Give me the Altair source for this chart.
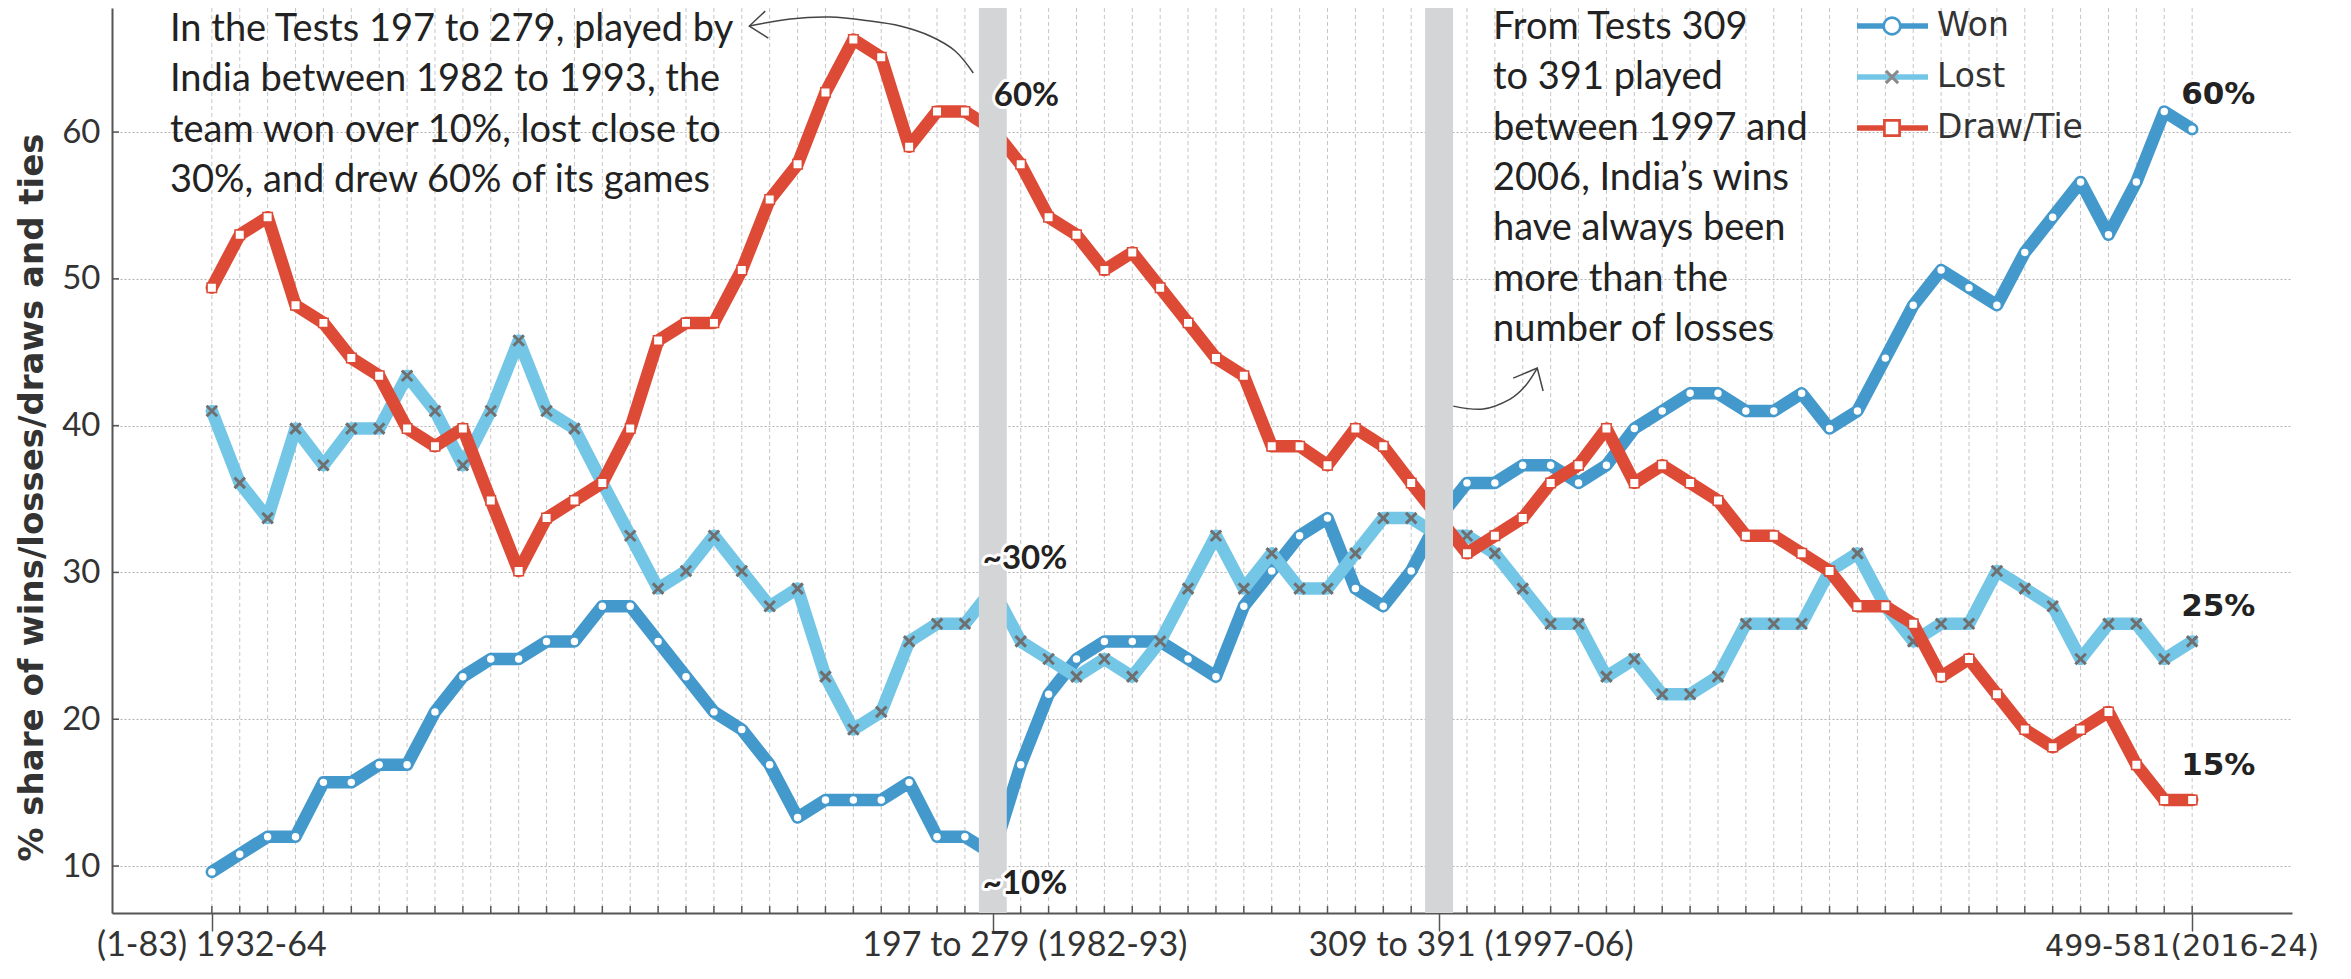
import altair as alt
import pandas as pd

# ---------------- data ----------------
idx = list(range(72))  # rolling 83-Test windows, in order

won = [9.6, 10.8, 12.0, 12.0, 15.7, 15.7, 16.9, 16.9, 20.5, 22.9,
       24.1, 24.1, 25.3, 25.3, 27.7, 27.7, 25.3, 22.9, 20.5, 19.3,
       16.9, 13.3, 14.5, 14.5, 14.5, 15.7, 12.0, 12.0, 10.8, 16.9,
       21.7, 24.1, 25.3, 25.3, 25.3, 24.1, 22.9, 27.7, 30.1, 32.5,
       33.7, 28.9, 27.7, 30.1, 33.7, 36.1, 36.1, 37.3, 37.3, 36.1,
       37.3, 39.8, 41.0, 42.2, 42.2, 41.0, 41.0, 42.2, 39.8, 41.0,
       44.6, 48.2, 50.6, 49.4, 48.2, 51.8, 54.2, 56.6, 53.0, 56.6,
       61.4, 60.2]

lost = [41.0, 36.1, 33.7, 39.8, 37.3, 39.8, 39.8, 43.4, 41.0, 37.3,
        41.0, 45.8, 41.0, 39.8, 36.1, 32.5, 28.9, 30.1, 32.5, 30.1,
        27.7, 28.9, 22.9, 19.3, 20.5, 25.3, 26.5, 26.5, 28.9, 25.3,
        24.1, 22.9, 24.1, 22.9, 25.3, 28.9, 32.5, 28.9, 31.3, 28.9,
        28.9, 31.3, 33.7, 33.7, 32.5, 32.5, 31.3, 28.9, 26.5, 26.5,
        22.9, 24.1, 21.7, 21.7, 22.9, 26.5, 26.5, 26.5, 30.1, 31.3,
        27.7, 25.3, 26.5, 26.5, 30.1, 28.9, 27.7, 24.1, 26.5, 26.5,
        24.1, 25.3]

draw = [49.4, 53.0, 54.2, 48.2, 47.0, 44.6, 43.4, 39.8, 38.6, 39.8,
        34.9, 30.1, 33.7, 34.9, 36.1, 39.8, 45.8, 47.0, 47.0, 50.6,
        55.4, 57.8, 62.7, 66.3, 65.1, 59.0, 61.4, 61.4, 60.2, 57.8,
        54.2, 53.0, 50.6, 51.8, 49.4, 47.0, 44.6, 43.4, 38.6, 38.6,
        37.3, 39.8, 38.6, 36.1, 33.7, 31.3, 32.5, 33.7, 36.1, 37.3,
        39.8, 36.1, 37.3, 36.1, 34.9, 32.5, 32.5, 31.3, 30.1, 27.7,
        27.7, 26.5, 22.9, 24.1, 21.7, 19.3, 18.1, 19.3, 20.5, 16.9,
        14.5, 14.5]

series_names = ["Won", "Lost", "Draw/Tie"]
y_ticks = [10, 20, 30, 40, 50, 60]
x_tick_idx = [0, 28, 44, 71]
x_tick_labels = ["(1-83) 1932-64", "197 to 279 (1982-93)",
                 "309 to 391 (1997-06)", "499-581(2016-24)"]
band_lo = [27.5, 43.5]
band_hi = [28.5, 44.5]
end_labels = ["60%", "25%", "15%"]

note1 = ["In the Tests 197 to 279, played by",
         "India between 1982 to 1993, the",
         "team won over 10%, lost close to",
         "30%, and drew 60% of its games"]
note2 = ["From Tests 309", "to 391 played", "between 1997 and",
         "2006, India\u2019s wins", "have always been",
         "more than the", "number of losses"]

# annotation arrows (in data units: window index, percent)
arrow1_x = [19.27, 20.74, 22.17, 23.6, 24.68, 25.75, 26.65, 27.3]
arrow1_y = [67.22, 67.70, 67.83, 67.56, 67.22, 66.54, 65.52, 64.02]
head1_x = [19.84, 19.27, 19.95]
head1_y = [68.24, 67.22, 66.40]
arrow2_x = [44.51, 45.58, 46.55, 47.09, 47.52]
arrow2_y = [41.33, 41.13, 41.81, 42.70, 43.92]
head2_x = [46.66, 47.52, 47.73]
head2_y = [43.24, 43.92, 42.36]

# ---------------- styling ----------------
W, H = 2180, 905
BLUE = "#4499cc"
LIGHT = "#74c6e7"
RED = "#dd4a36"
XGRAY = "#6f6f6f"
BAND = "#d4d5d7"
INK = "#222222"
AX = "#555555"
SANS = "Lato"
DJ = "DejaVu Sans"

xs = alt.Scale(domain=[-3.58, 74.58], nice=False, zero=False)
ys = alt.Scale(domain=[6.8, 68.45], nice=False, zero=False)

X_AXIS = alt.Axis(values=x_tick_idx, labels=False, grid=False, ticks=True,
                  tickSize=18, tickWidth=1.5, tickColor=AX,
                  domainColor=AX, domainWidth=2, title=None)
Y_AXIS = alt.Axis(values=y_ticks, grid=True, gridDash=[2, 2], gridColor="#b3b3b3",
                  gridWidth=1, ticks=False, labelFont=SANS, labelFontSize=33,
                  labelColor="#333333", labelPadding=12, domainColor=AX, domainWidth=2,
                  title="% share of wins/losses/draws and ties", titleFont=DJ,
                  titleFontSize=34, titleFontWeight="bold", titleColor="#333333",
                  titleX=-80, titleY=489, titleAngle=270, titleAlign="center",
                  titleBaseline="middle")


def xq(f):
    return alt.X(f"{f}:Q", scale=xs, axis=X_AXIS)


def yq(f):
    return alt.Y(f"{f}:Q", scale=ys, axis=Y_AXIS)


df = pd.DataFrame({"idx": idx, "won": won, "lost": lost, "draw": draw})
base = alt.Chart(df)

layers = []

# vertical dashed grid at every window
layers.append(base.mark_rule(strokeDash=[4, 3], color="#c6c6c6", strokeWidth=1)
              .encode(x=xq("idx")))
# inward minor ticks on x axis
layers.append(base.mark_rule(color=AX, strokeWidth=1.5)
              .encode(x=xq("idx"), y=alt.value(H - 7), y2=alt.value(H)))
# inward ticks on y axis
layers.append(alt.Chart(pd.DataFrame({"v": y_ticks})).mark_rule(color=AX, strokeWidth=1.5)
              .encode(y=yq("v"), x=alt.value(0), x2=alt.value(7)))

# series: line then markers, in drawing order Won, Lost, Draw/Tie
line_kw = dict(strokeWidth=12.5, strokeJoin="round", strokeCap="round")
layers.append(base.mark_line(color=BLUE, **line_kw).encode(x=xq("idx"), y=yq("won")))
layers.append(base.mark_point(shape="circle", filled=True, fill="white", stroke=BLUE,
                              strokeWidth=1.5, size=80, opacity=1)
              .encode(x=xq("idx"), y=yq("won")))
layers.append(base.mark_line(color=LIGHT, **line_kw).encode(x=xq("idx"), y=yq("lost")))
layers.append(base.mark_point(shape="M-1,-1L1,1M-1,1L1,-1", filled=False, stroke=XGRAY,
                              strokeWidth=3, size=110, opacity=1)
              .encode(x=xq("idx"), y=yq("lost")))
layers.append(base.mark_line(color=RED, **line_kw).encode(x=xq("idx"), y=yq("draw")))
layers.append(base.mark_point(shape="square", filled=True, fill="white", stroke=RED,
                              strokeWidth=1.5, size=90, opacity=1)
              .encode(x=xq("idx"), y=yq("draw")))

# grey highlight bands (drawn over the lines)
layers.append(alt.Chart(pd.DataFrame({"lo": band_lo, "hi": band_hi}))
              .mark_rect(color=BAND)
              .encode(x=xq("lo"), x2=alt.X2("hi")))


# arrows
def path_layer(xv, yv, ordered=False):
    d = pd.DataFrame({"ax": xv, "ay": yv, "ord": list(range(len(xv)))})
    m = alt.Chart(d).mark_line(color="#444444", strokeWidth=1.5,
                               interpolate="linear" if ordered else "cardinal")
    enc = dict(x=xq("ax"), y=yq("ay"))
    if ordered:
        enc["order"] = alt.Order("ord:Q")
    return m.encode(**enc)


layers.append(path_layer(arrow1_x, arrow1_y))
layers.append(path_layer(head1_x, head1_y, ordered=True))
layers.append(path_layer(arrow2_x, arrow2_y))
layers.append(path_layer(head2_x, head2_y, ordered=True))

# annotation notes
for lines_, px, py in [(note1, 58, 33), (note2, 1381, 31)]:
    layers.append(alt.Chart(pd.DataFrame({"t": ["\n".join(lines_)]}))
                  .mark_text(align="left", baseline="alphabetic", lineBreak="\n",
                             lineHeight=50.3, font=SANS, fontSize=38, color=INK)
                  .encode(x=alt.value(px), y=alt.value(py), text="t:N"))


# labels with white halo
def halo_text(d, xf, yf, tf, dx, dy, font, size, weight="bold", align="left"):
    out = []
    for halo in (True, False):
        kw = dict(align=align, baseline="middle", dx=dx, dy=dy, font=font,
                  fontSize=size, fontWeight=weight)
        if halo:
            kw.update(stroke="white", strokeWidth=6, strokeJoin="round", color="white")
        else:
            kw.update(color=INK)
        out.append(alt.Chart(d).mark_text(**kw).encode(x=xq(xf), y=yq(yf), text=f"{tf}:N"))
    return out


i28 = x_tick_idx[1]
layers += halo_text(pd.DataFrame({"x": [i28], "y": [draw[i28]], "t": ["60%"]}),
                    "x", "y", "t", 1, -33, SANS, 33)
layers += halo_text(pd.DataFrame({"x": [i28], "y": [lost[i28]], "t": ["~30%"]}),
                    "x", "y", "t", -10, -30, SANS, 33)
layers += halo_text(pd.DataFrame({"x": [i28], "y": [won[i28]], "t": ["~10%"]}),
                    "x", "y", "t", -10, 30, SANS, 33)
layers += halo_text(pd.DataFrame({"x": [idx[-1]] * 3,
                                  "y": [won[-1], lost[-1], draw[-1]],
                                  "t": end_labels}),
                    "x", "y", "t", -11, -34, DJ, 31)

# x tick labels
tick_df = pd.DataFrame({"x": x_tick_idx, "t": x_tick_labels})
LAB_Y = H + 43
layers.append(alt.Chart(tick_df.iloc[[0]]).mark_text(
    align="center", baseline="alphabetic", font=SANS, fontSize=34, color="#333333")
    .encode(x=xq("x"), y=alt.value(LAB_Y), text="t:N"))
layers.append(alt.Chart(tick_df.iloc[[1, 2]]).mark_text(
    align="center", baseline="alphabetic", dx=32, font=SANS, fontSize=34, color="#333333")
    .encode(x=xq("x"), y=alt.value(LAB_Y), text="t:N"))
layers.append(alt.Chart(tick_df.iloc[[3]]).mark_text(
    align="center", baseline="alphabetic", dx=-10, font=DJ, fontSize=30, color="#333333")
    .encode(x=xq("x"), y=alt.value(LAB_Y), text="t:N"))

# legend (top right)
legend_specs = [
    (series_names[0], 18, BLUE, dict(shape="circle", filled=True, fill="white", stroke=BLUE,
                                      strokeWidth=2.7, size=280)),
    (series_names[1], 69, LIGHT, dict(shape="M-1,-1L1,1M-1,1L1,-1", filled=False,
                                       stroke="#8a8a8a", strokeWidth=3, size=150)),
    (series_names[2], 120, RED, dict(shape="square", filled=True, fill="white", stroke=RED,
                                      strokeWidth=2.7, size=230)),
]
for name, ly, lc, pkw in legend_specs:
    one = alt.Chart(pd.DataFrame({"label": [name]}))
    layers.append(one.mark_rule(color=lc, strokeWidth=5.5)
                  .encode(x=alt.value(1745), x2=alt.value(1816), y=alt.value(ly)))
    layers.append(one.mark_point(opacity=1, **pkw)
                  .encode(x=alt.value(1780), y=alt.value(ly)))
    layers.append(one.mark_text(align="left", baseline="middle", font=DJ, fontSize=33,
                                color="#333333")
                  .encode(x=alt.value(1825), y=alt.value(ly), text="label:N"))

chart = alt.layer(*layers).properties(
    width=W, height=H,
    autosize=alt.AutoSizeParams(type="none"),
    padding={"left": 104, "top": 0, "right": 50, "bottom": 52},
    background="white",
).configure_view(stroke=None)

chart.save("out.html", embed_options={"renderer": "svg", "actions": False})
